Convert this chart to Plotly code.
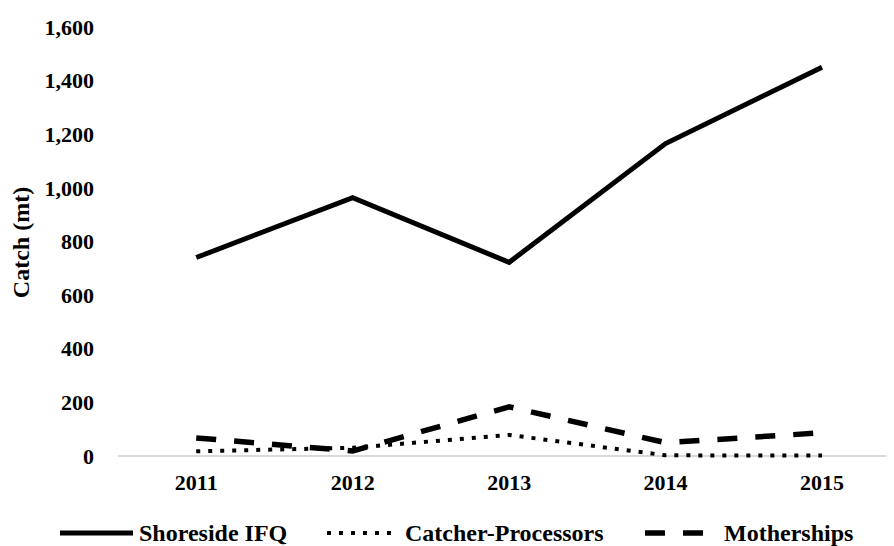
import plotly.graph_objects as go

years = ["2011", "2012", "2013", "2014", "2015"]
shoreside_ifq = [740, 963, 722, 1165, 1450]
catcher_processors = [17, 30, 78, 2, 1]
motherships = [67, 18, 183, 49, 86]
y_ticks = [0, 200, 400, 600, 800, 1000, 1200, 1400, 1600]
series_names = ["Shoreside IFQ", "Catcher-Processors", "Motherships"]

FONT = "Liberation Serif"
FS_TICK = 22
FS_TEXT = 24
OFF = 8  # browser body margin
W, H = 894 - OFF, 546 - OFF
L, R, T, B = 118 - OFF, 0, 27 - OFF, 88
plot_w = W - L - R
plot_h = H - T - B

styles = [
    dict(color="black", width=5, dash="solid"),
    dict(color="black", width=4, dash="4px,8px"),
    dict(color="black", width=5.5, dash="20px,18px"),
]

fig = go.Figure()
for name, vals, st in zip(series_names, [shoreside_ifq, catcher_processors, motherships], styles):
    fig.add_trace(go.Scatter(x=years, y=vals, mode="lines", name=name, line=st, showlegend=False))

# custom legend (target page pixels -> paper)
def px_x(p):
    return (p - OFF - L) / plot_w

def px_y(p):
    return (H - B - (p - OFF)) / plot_h

leg_y = 533
legend_items = [(60, 133, 137), (327, 392, 403), (645, 712, 722)]
shapes = []
annotations = []
for (x0, x1, tx), name, st in zip(legend_items, series_names, styles):
    shapes.append(dict(type="line", xref="paper", yref="paper",
                       x0=px_x(x0), x1=px_x(x1), y0=px_y(leg_y), y1=px_y(leg_y),
                       line=st))
    annotations.append(dict(text=name, xref="paper", yref="paper", x=px_x(tx), y=px_y(leg_y),
                            xanchor="left", yanchor="middle", showarrow=False,
                            font=dict(family=FONT, size=FS_TEXT, color="black", weight="bold")))

fig.update_layout(
    width=W, height=H,
    margin=dict(l=L, r=R, t=T, b=B),
    paper_bgcolor="white", plot_bgcolor="white",
    shapes=shapes, annotations=annotations,
    showlegend=False,
    font=dict(family=FONT, size=FS_TICK, color="black", weight="bold"),
)
fig.update_xaxes(
    type="category", range=[-0.5, 4.46], showgrid=False, showline=False, zeroline=False,
    ticks="", ticklabelstandoff=9,
    tickfont=dict(family=FONT, size=FS_TICK, color="black", weight="bold"),
)
fig.update_yaxes(
    range=[-8, 1600], tickvals=y_ticks, tickformat=",", showgrid=False, showline=False,
    zeroline=True, zerolinecolor="#d9d9d9", zerolinewidth=1.5,
    ticks="", ticklabelstandoff=23,
    tickfont=dict(family=FONT, size=FS_TICK, color="black", weight="bold"),
    title=dict(text="Catch (mt)", standoff=12,
               font=dict(family=FONT, size=FS_TEXT, color="black", weight="bold")),
)

fig.write_html("out.html")
